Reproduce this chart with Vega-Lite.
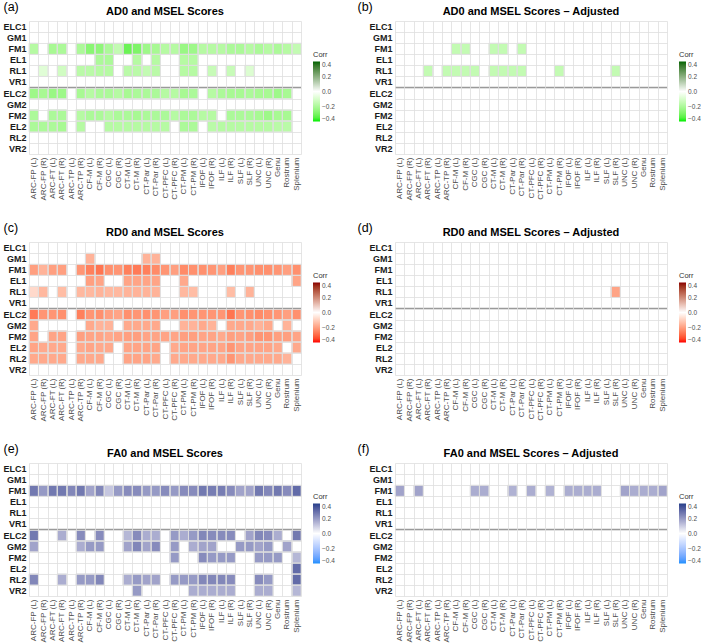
{
"$schema": "https://vega.github.io/schema/vega-lite/v6.json",
"padding": {"left": 2, "top": 0, "right": 0, "bottom": 0},
"datasets": {
"a": [
{"y":"FM1","x":"ARC-FP (L)","v":-0.18},{"y":"FM1","x":"ARC-FT (L)","v":-0.21},{"y":"FM1","x":"ARC-FT (R)","v":-0.20},{"y":"FM1","x":"ARC-TP (R)","v":-0.20},{"y":"FM1","x":"CF-M (L)","v":-0.27},{"y":"FM1","x":"CF-M (R)","v":-0.26},{"y":"FM1","x":"CGC (L)","v":-0.20},{"y":"FM1","x":"CGC (R)","v":-0.15},{"y":"FM1","x":"CT-M (L)","v":-0.32},{"y":"FM1","x":"CT-M (R)","v":-0.29},{"y":"FM1","x":"CT-Par (L)","v":-0.23},{"y":"FM1","x":"CT-Par (R)","v":-0.21},{"y":"FM1","x":"CT-PFC (L)","v":-0.18},{"y":"FM1","x":"CT-PFC (R)","v":-0.18},{"y":"FM1","x":"CT-PM (L)","v":-0.24},{"y":"FM1","x":"CT-PM (R)","v":-0.23},{"y":"FM1","x":"IFOF (L)","v":-0.18},{"y":"FM1","x":"IFOF (R)","v":-0.18},{"y":"FM1","x":"ILF (L)","v":-0.18},{"y":"FM1","x":"ILF (R)","v":-0.20},{"y":"FM1","x":"SLF (L)","v":-0.20},{"y":"FM1","x":"SLF (R)","v":-0.18},{"y":"FM1","x":"UNC (L)","v":-0.20},{"y":"FM1","x":"UNC (R)","v":-0.18},{"y":"FM1","x":"Genu","v":-0.20},{"y":"FM1","x":"Rostrum","v":-0.18},{"y":"FM1","x":"Splenium","v":-0.15},
{"y":"EL1","x":"CF-M (R)","v":-0.20},{"y":"EL1","x":"CGC (L)","v":-0.20},{"y":"EL1","x":"CT-M (R)","v":-0.18},{"y":"EL1","x":"CT-Par (R)","v":-0.18},{"y":"EL1","x":"CT-PM (L)","v":-0.18},{"y":"EL1","x":"CT-PM (R)","v":-0.18},
{"y":"RL1","x":"ARC-FP (R)","v":-0.08},{"y":"RL1","x":"ARC-FT (R)","v":-0.12},{"y":"RL1","x":"ARC-TP (R)","v":-0.17},{"y":"RL1","x":"CF-M (L)","v":-0.17},{"y":"RL1","x":"CF-M (R)","v":-0.18},{"y":"RL1","x":"CGC (L)","v":-0.18},{"y":"RL1","x":"CT-M (L)","v":-0.17},{"y":"RL1","x":"CT-M (R)","v":-0.17},{"y":"RL1","x":"CT-Par (L)","v":-0.15},{"y":"RL1","x":"CT-Par (R)","v":-0.17},{"y":"RL1","x":"CT-PM (L)","v":-0.18},{"y":"RL1","x":"CT-PM (R)","v":-0.18},{"y":"RL1","x":"IFOF (R)","v":-0.14},{"y":"RL1","x":"ILF (R)","v":-0.14},{"y":"RL1","x":"SLF (R)","v":-0.09},
{"y":"ELC2","x":"ARC-FP (L)","v":-0.23},{"y":"ELC2","x":"ARC-FP (R)","v":-0.21},{"y":"ELC2","x":"ARC-FT (L)","v":-0.24},{"y":"ELC2","x":"ARC-FT (R)","v":-0.23},{"y":"ELC2","x":"ARC-TP (R)","v":-0.21},{"y":"ELC2","x":"CF-M (L)","v":-0.18},{"y":"ELC2","x":"CF-M (R)","v":-0.20},{"y":"ELC2","x":"CGC (L)","v":-0.20},{"y":"ELC2","x":"CGC (R)","v":-0.18},{"y":"ELC2","x":"CT-M (L)","v":-0.21},{"y":"ELC2","x":"CT-M (R)","v":-0.20},{"y":"ELC2","x":"CT-Par (L)","v":-0.20},{"y":"ELC2","x":"CT-Par (R)","v":-0.20},{"y":"ELC2","x":"CT-PFC (L)","v":-0.18},{"y":"ELC2","x":"CT-PFC (R)","v":-0.18},{"y":"ELC2","x":"CT-PM (L)","v":-0.21},{"y":"ELC2","x":"CT-PM (R)","v":-0.20},{"y":"ELC2","x":"IFOF (R)","v":-0.18},{"y":"ELC2","x":"ILF (L)","v":-0.20},{"y":"ELC2","x":"ILF (R)","v":-0.21},{"y":"ELC2","x":"SLF (L)","v":-0.21},{"y":"ELC2","x":"SLF (R)","v":-0.20},{"y":"ELC2","x":"UNC (L)","v":-0.21},{"y":"ELC2","x":"UNC (R)","v":-0.21},{"y":"ELC2","x":"Genu","v":-0.23},{"y":"ELC2","x":"Rostrum","v":-0.21},
{"y":"FM2","x":"ARC-FP (L)","v":-0.20},{"y":"FM2","x":"ARC-FT (L)","v":-0.20},{"y":"FM2","x":"ARC-FT (R)","v":-0.20},{"y":"FM2","x":"ARC-TP (R)","v":-0.18},{"y":"FM2","x":"CF-M (L)","v":-0.20},{"y":"FM2","x":"CF-M (R)","v":-0.20},{"y":"FM2","x":"CGC (L)","v":-0.18},{"y":"FM2","x":"CGC (R)","v":-0.20},{"y":"FM2","x":"CT-M (L)","v":-0.20},{"y":"FM2","x":"CT-M (R)","v":-0.21},{"y":"FM2","x":"CT-Par (L)","v":-0.20},{"y":"FM2","x":"CT-Par (R)","v":-0.20},{"y":"FM2","x":"CT-PFC (L)","v":-0.20},{"y":"FM2","x":"CT-PFC (R)","v":-0.18},{"y":"FM2","x":"CT-PM (L)","v":-0.20},{"y":"FM2","x":"CT-PM (R)","v":-0.20},{"y":"FM2","x":"IFOF (L)","v":-0.18},{"y":"FM2","x":"IFOF (R)","v":-0.18},{"y":"FM2","x":"ILF (R)","v":-0.20},{"y":"FM2","x":"SLF (L)","v":-0.20},{"y":"FM2","x":"SLF (R)","v":-0.20},{"y":"FM2","x":"UNC (L)","v":-0.21},{"y":"FM2","x":"UNC (R)","v":-0.23},{"y":"FM2","x":"Genu","v":-0.21},{"y":"FM2","x":"Rostrum","v":-0.21},
{"y":"EL2","x":"ARC-FP (L)","v":-0.20},{"y":"EL2","x":"ARC-FP (R)","v":-0.20},{"y":"EL2","x":"ARC-FT (L)","v":-0.20},{"y":"EL2","x":"ARC-FT (R)","v":-0.21},{"y":"EL2","x":"ARC-TP (R)","v":-0.18},{"y":"EL2","x":"CGC (L)","v":-0.18},{"y":"EL2","x":"CGC (R)","v":-0.18},{"y":"EL2","x":"CT-M (L)","v":-0.18},{"y":"EL2","x":"CT-M (R)","v":-0.18},{"y":"EL2","x":"CT-Par (L)","v":-0.18},{"y":"EL2","x":"CT-Par (R)","v":-0.18},{"y":"EL2","x":"CT-PFC (L)","v":-0.18},{"y":"EL2","x":"CT-PM (L)","v":-0.20},{"y":"EL2","x":"CT-PM (R)","v":-0.20},{"y":"EL2","x":"IFOF (R)","v":-0.17},{"y":"EL2","x":"ILF (L)","v":-0.18},{"y":"EL2","x":"ILF (R)","v":-0.18},{"y":"EL2","x":"SLF (L)","v":-0.18},{"y":"EL2","x":"SLF (R)","v":-0.18},{"y":"EL2","x":"UNC (L)","v":-0.18},{"y":"EL2","x":"UNC (R)","v":-0.18},{"y":"EL2","x":"Genu","v":-0.17},{"y":"EL2","x":"Rostrum","v":-0.17}
],
"b": [
{"y":"FM1","x":"CF-M (L)","v":-0.15},{"y":"FM1","x":"CF-M (R)","v":-0.15},{"y":"FM1","x":"CT-M (L)","v":-0.15},{"y":"FM1","x":"CT-M (R)","v":-0.15},{"y":"FM1","x":"CT-Par (R)","v":-0.15},
{"y":"RL1","x":"ARC-FT (R)","v":-0.15},{"y":"RL1","x":"ARC-TP (R)","v":-0.15},{"y":"RL1","x":"CF-M (L)","v":-0.15},{"y":"RL1","x":"CF-M (R)","v":-0.15},{"y":"RL1","x":"CGC (L)","v":-0.15},{"y":"RL1","x":"CT-M (L)","v":-0.15},{"y":"RL1","x":"CT-M (R)","v":-0.15},{"y":"RL1","x":"CT-Par (L)","v":-0.15},{"y":"RL1","x":"CT-Par (R)","v":-0.15},{"y":"RL1","x":"CT-PM (R)","v":-0.15},{"y":"RL1","x":"SLF (R)","v":-0.15}
],
"c": [
{"y":"GM1","x":"CF-M (L)","v":-0.16},{"y":"GM1","x":"CT-Par (L)","v":-0.16},{"y":"GM1","x":"CT-Par (R)","v":-0.16},
{"y":"FM1","x":"ARC-FP (L)","v":-0.20},{"y":"FM1","x":"ARC-FP (R)","v":-0.16},{"y":"FM1","x":"ARC-FT (L)","v":-0.20},{"y":"FM1","x":"ARC-FT (R)","v":-0.20},{"y":"FM1","x":"ARC-TP (R)","v":-0.22},{"y":"FM1","x":"CF-M (L)","v":-0.26},{"y":"FM1","x":"CF-M (R)","v":-0.28},{"y":"FM1","x":"CGC (L)","v":-0.23},{"y":"FM1","x":"CGC (R)","v":-0.22},{"y":"FM1","x":"CT-M (L)","v":-0.26},{"y":"FM1","x":"CT-M (R)","v":-0.27},{"y":"FM1","x":"CT-Par (L)","v":-0.26},{"y":"FM1","x":"CT-Par (R)","v":-0.24},{"y":"FM1","x":"CT-PFC (L)","v":-0.22},{"y":"FM1","x":"CT-PFC (R)","v":-0.20},{"y":"FM1","x":"CT-PM (L)","v":-0.24},{"y":"FM1","x":"CT-PM (R)","v":-0.23},{"y":"FM1","x":"IFOF (L)","v":-0.23},{"y":"FM1","x":"IFOF (R)","v":-0.22},{"y":"FM1","x":"ILF (L)","v":-0.20},{"y":"FM1","x":"ILF (R)","v":-0.26},{"y":"FM1","x":"SLF (L)","v":-0.22},{"y":"FM1","x":"SLF (R)","v":-0.22},{"y":"FM1","x":"UNC (L)","v":-0.23},{"y":"FM1","x":"UNC (R)","v":-0.23},{"y":"FM1","x":"Genu","v":-0.22},{"y":"FM1","x":"Rostrum","v":-0.20},{"y":"FM1","x":"Splenium","v":-0.23},
{"y":"EL1","x":"CF-M (L)","v":-0.20},{"y":"EL1","x":"CF-M (R)","v":-0.19},{"y":"EL1","x":"CT-M (L)","v":-0.19},{"y":"EL1","x":"CT-M (R)","v":-0.19},{"y":"EL1","x":"CT-Par (L)","v":-0.19},{"y":"EL1","x":"CT-Par (R)","v":-0.19},{"y":"EL1","x":"CT-PM (L)","v":-0.18},{"y":"EL1","x":"Splenium","v":-0.19},
{"y":"RL1","x":"ARC-FP (L)","v":-0.08},{"y":"RL1","x":"ARC-FP (R)","v":-0.15},{"y":"RL1","x":"ARC-FT (R)","v":-0.14},{"y":"RL1","x":"ARC-TP (R)","v":-0.15},{"y":"RL1","x":"CF-M (L)","v":-0.15},{"y":"RL1","x":"CF-M (R)","v":-0.16},{"y":"RL1","x":"CGC (L)","v":-0.15},{"y":"RL1","x":"CGC (R)","v":-0.15},{"y":"RL1","x":"CT-M (L)","v":-0.16},{"y":"RL1","x":"CT-M (R)","v":-0.16},{"y":"RL1","x":"CT-Par (L)","v":-0.16},{"y":"RL1","x":"CT-Par (R)","v":-0.16},{"y":"RL1","x":"CT-PM (L)","v":-0.15},{"y":"RL1","x":"CT-PM (R)","v":-0.14},{"y":"RL1","x":"ILF (R)","v":-0.14},{"y":"RL1","x":"SLF (R)","v":-0.16},
{"y":"ELC2","x":"ARC-FP (L)","v":-0.27},{"y":"ELC2","x":"ARC-FP (R)","v":-0.22},{"y":"ELC2","x":"ARC-FT (L)","v":-0.22},{"y":"ELC2","x":"ARC-FT (R)","v":-0.23},{"y":"ELC2","x":"ARC-TP (R)","v":-0.26},{"y":"ELC2","x":"CF-M (L)","v":-0.22},{"y":"ELC2","x":"CF-M (R)","v":-0.23},{"y":"ELC2","x":"CGC (L)","v":-0.20},{"y":"ELC2","x":"CGC (R)","v":-0.19},{"y":"ELC2","x":"CT-M (L)","v":-0.23},{"y":"ELC2","x":"CT-M (R)","v":-0.22},{"y":"ELC2","x":"CT-Par (L)","v":-0.23},{"y":"ELC2","x":"CT-Par (R)","v":-0.22},{"y":"ELC2","x":"CT-PFC (L)","v":-0.20},{"y":"ELC2","x":"CT-PFC (R)","v":-0.20},{"y":"ELC2","x":"CT-PM (L)","v":-0.23},{"y":"ELC2","x":"CT-PM (R)","v":-0.22},{"y":"ELC2","x":"IFOF (L)","v":-0.22},{"y":"ELC2","x":"IFOF (R)","v":-0.22},{"y":"ELC2","x":"ILF (L)","v":-0.22},{"y":"ELC2","x":"ILF (R)","v":-0.28},{"y":"ELC2","x":"SLF (L)","v":-0.22},{"y":"ELC2","x":"SLF (R)","v":-0.23},{"y":"ELC2","x":"UNC (L)","v":-0.24},{"y":"ELC2","x":"UNC (R)","v":-0.23},{"y":"ELC2","x":"Genu","v":-0.22},{"y":"ELC2","x":"Rostrum","v":-0.20},{"y":"ELC2","x":"Splenium","v":-0.23},
{"y":"GM2","x":"ARC-FP (L)","v":-0.18},{"y":"GM2","x":"CF-M (L)","v":-0.18},{"y":"GM2","x":"CF-M (R)","v":-0.16},{"y":"GM2","x":"CGC (L)","v":-0.16},{"y":"GM2","x":"CT-M (L)","v":-0.18},{"y":"GM2","x":"CT-M (R)","v":-0.18},{"y":"GM2","x":"CT-Par (L)","v":-0.18},{"y":"GM2","x":"CT-Par (R)","v":-0.18},{"y":"GM2","x":"CT-PM (L)","v":-0.16},{"y":"GM2","x":"CT-PM (R)","v":-0.16},{"y":"GM2","x":"IFOF (L)","v":-0.18},{"y":"GM2","x":"IFOF (R)","v":-0.16},{"y":"GM2","x":"ILF (R)","v":-0.18},{"y":"GM2","x":"SLF (L)","v":-0.18},{"y":"GM2","x":"SLF (R)","v":-0.18},{"y":"GM2","x":"UNC (L)","v":-0.16},{"y":"GM2","x":"UNC (R)","v":-0.18},{"y":"GM2","x":"Rostrum","v":-0.16},
{"y":"FM2","x":"ARC-FP (L)","v":-0.19},{"y":"FM2","x":"ARC-FT (L)","v":-0.19},{"y":"FM2","x":"ARC-FT (R)","v":-0.19},{"y":"FM2","x":"ARC-TP (R)","v":-0.20},{"y":"FM2","x":"CF-M (L)","v":-0.19},{"y":"FM2","x":"CF-M (R)","v":-0.19},{"y":"FM2","x":"CGC (L)","v":-0.18},{"y":"FM2","x":"CGC (R)","v":-0.19},{"y":"FM2","x":"CT-M (L)","v":-0.20},{"y":"FM2","x":"CT-M (R)","v":-0.20},{"y":"FM2","x":"CT-Par (L)","v":-0.19},{"y":"FM2","x":"CT-Par (R)","v":-0.19},{"y":"FM2","x":"CT-PFC (L)","v":-0.19},{"y":"FM2","x":"CT-PFC (R)","v":-0.19},{"y":"FM2","x":"CT-PM (L)","v":-0.20},{"y":"FM2","x":"CT-PM (R)","v":-0.20},{"y":"FM2","x":"IFOF (L)","v":-0.19},{"y":"FM2","x":"IFOF (R)","v":-0.19},{"y":"FM2","x":"ILF (L)","v":-0.18},{"y":"FM2","x":"ILF (R)","v":-0.20},{"y":"FM2","x":"SLF (L)","v":-0.19},{"y":"FM2","x":"SLF (R)","v":-0.20},{"y":"FM2","x":"UNC (L)","v":-0.22},{"y":"FM2","x":"UNC (R)","v":-0.22},{"y":"FM2","x":"Genu","v":-0.20},{"y":"FM2","x":"Rostrum","v":-0.20},{"y":"FM2","x":"Splenium","v":-0.19},
{"y":"EL2","x":"ARC-FP (L)","v":-0.19},{"y":"EL2","x":"ARC-FP (R)","v":-0.18},{"y":"EL2","x":"ARC-FT (L)","v":-0.18},{"y":"EL2","x":"ARC-FT (R)","v":-0.18},{"y":"EL2","x":"ARC-TP (R)","v":-0.18},{"y":"EL2","x":"CF-M (L)","v":-0.19},{"y":"EL2","x":"CF-M (R)","v":-0.18},{"y":"EL2","x":"CGC (L)","v":-0.18},{"y":"EL2","x":"CT-M (L)","v":-0.19},{"y":"EL2","x":"CT-M (R)","v":-0.19},{"y":"EL2","x":"CT-Par (L)","v":-0.19},{"y":"EL2","x":"CT-Par (R)","v":-0.19},{"y":"EL2","x":"CT-PFC (R)","v":-0.18},{"y":"EL2","x":"CT-PM (L)","v":-0.19},{"y":"EL2","x":"CT-PM (R)","v":-0.19},{"y":"EL2","x":"IFOF (L)","v":-0.19},{"y":"EL2","x":"IFOF (R)","v":-0.19},{"y":"EL2","x":"ILF (L)","v":-0.19},{"y":"EL2","x":"ILF (R)","v":-0.22},{"y":"EL2","x":"SLF (L)","v":-0.19},{"y":"EL2","x":"SLF (R)","v":-0.19},{"y":"EL2","x":"UNC (L)","v":-0.19},{"y":"EL2","x":"UNC (R)","v":-0.19},{"y":"EL2","x":"Genu","v":-0.18},{"y":"EL2","x":"Splenium","v":-0.18},
{"y":"RL2","x":"ARC-FP (L)","v":-0.18},{"y":"RL2","x":"ARC-FP (R)","v":-0.18},{"y":"RL2","x":"ARC-FT (L)","v":-0.18},{"y":"RL2","x":"ARC-FT (R)","v":-0.18},{"y":"RL2","x":"ARC-TP (R)","v":-0.18},{"y":"RL2","x":"CF-M (L)","v":-0.18},{"y":"RL2","x":"CF-M (R)","v":-0.18},{"y":"RL2","x":"CT-M (L)","v":-0.19},{"y":"RL2","x":"CT-M (R)","v":-0.19},{"y":"RL2","x":"CT-Par (L)","v":-0.19},{"y":"RL2","x":"CT-Par (R)","v":-0.18},{"y":"RL2","x":"CT-PFC (R)","v":-0.18},{"y":"RL2","x":"CT-PM (L)","v":-0.18},{"y":"RL2","x":"CT-PM (R)","v":-0.18},{"y":"RL2","x":"IFOF (L)","v":-0.18},{"y":"RL2","x":"IFOF (R)","v":-0.18},{"y":"RL2","x":"ILF (L)","v":-0.18},{"y":"RL2","x":"ILF (R)","v":-0.22},{"y":"RL2","x":"SLF (L)","v":-0.18},{"y":"RL2","x":"SLF (R)","v":-0.18},{"y":"RL2","x":"UNC (L)","v":-0.18},{"y":"RL2","x":"UNC (R)","v":-0.18},{"y":"RL2","x":"Genu","v":-0.18},{"y":"RL2","x":"Rostrum","v":-0.16}
],
"d": [
{"y":"RL1","x":"SLF (R)","v":-0.19}
],
"e": [
{"y":"FM1","x":"ARC-FP (L)","v":0.27},{"y":"FM1","x":"ARC-FP (R)","v":0.20},{"y":"FM1","x":"ARC-FT (L)","v":0.27},{"y":"FM1","x":"ARC-FT (R)","v":0.27},{"y":"FM1","x":"ARC-TP (L)","v":0.24},{"y":"FM1","x":"ARC-TP (R)","v":0.27},{"y":"FM1","x":"CF-M (L)","v":0.18},{"y":"FM1","x":"CF-M (R)","v":0.24},{"y":"FM1","x":"CGC (L)","v":0.11},{"y":"FM1","x":"CGC (R)","v":0.20},{"y":"FM1","x":"CT-M (L)","v":0.23},{"y":"FM1","x":"CT-M (R)","v":0.23},{"y":"FM1","x":"CT-Par (L)","v":0.20},{"y":"FM1","x":"CT-Par (R)","v":0.20},{"y":"FM1","x":"CT-PFC (L)","v":0.23},{"y":"FM1","x":"CT-PFC (R)","v":0.20},{"y":"FM1","x":"CT-PM (L)","v":0.23},{"y":"FM1","x":"CT-PM (R)","v":0.23},{"y":"FM1","x":"IFOF (L)","v":0.27},{"y":"FM1","x":"IFOF (R)","v":0.26},{"y":"FM1","x":"ILF (L)","v":0.26},{"y":"FM1","x":"ILF (R)","v":0.23},{"y":"FM1","x":"SLF (L)","v":0.18},{"y":"FM1","x":"SLF (R)","v":0.18},{"y":"FM1","x":"UNC (L)","v":0.27},{"y":"FM1","x":"UNC (R)","v":0.24},{"y":"FM1","x":"Genu","v":0.27},{"y":"FM1","x":"Rostrum","v":0.23},{"y":"FM1","x":"Splenium","v":0.30},
{"y":"ELC2","x":"ARC-FP (L)","v":0.27},{"y":"ELC2","x":"ARC-FT (R)","v":0.16},{"y":"ELC2","x":"ARC-TP (R)","v":0.23},{"y":"ELC2","x":"CF-M (R)","v":0.23},{"y":"ELC2","x":"CT-M (L)","v":0.14},{"y":"ELC2","x":"CT-M (R)","v":0.23},{"y":"ELC2","x":"CT-Par (L)","v":0.16},{"y":"ELC2","x":"CT-Par (R)","v":0.16},{"y":"ELC2","x":"CT-PFC (R)","v":0.20},{"y":"ELC2","x":"CT-PM (L)","v":0.16},{"y":"ELC2","x":"CT-PM (R)","v":0.20},{"y":"ELC2","x":"IFOF (L)","v":0.24},{"y":"ELC2","x":"IFOF (R)","v":0.23},{"y":"ELC2","x":"ILF (L)","v":0.23},{"y":"ELC2","x":"ILF (R)","v":0.23},{"y":"ELC2","x":"SLF (R)","v":0.18},{"y":"ELC2","x":"UNC (L)","v":0.24},{"y":"ELC2","x":"UNC (R)","v":0.23},{"y":"ELC2","x":"Genu","v":0.16},{"y":"ELC2","x":"Splenium","v":0.27},
{"y":"GM2","x":"ARC-FP (L)","v":0.18},{"y":"GM2","x":"ARC-TP (R)","v":0.16},{"y":"GM2","x":"CF-M (L)","v":0.20},{"y":"GM2","x":"CF-M (R)","v":0.20},{"y":"GM2","x":"CT-M (L)","v":0.18},{"y":"GM2","x":"CT-M (R)","v":0.24},{"y":"GM2","x":"CT-Par (L)","v":0.18},{"y":"GM2","x":"CT-Par (R)","v":0.23},{"y":"GM2","x":"CT-PFC (R)","v":0.20},{"y":"GM2","x":"CT-PM (R)","v":0.16},{"y":"GM2","x":"IFOF (L)","v":0.18},{"y":"GM2","x":"IFOF (R)","v":0.18},{"y":"GM2","x":"SLF (L)","v":0.20},{"y":"GM2","x":"SLF (R)","v":0.20},{"y":"GM2","x":"UNC (L)","v":0.18},{"y":"GM2","x":"UNC (R)","v":0.20},{"y":"GM2","x":"Rostrum","v":0.18},
{"y":"FM2","x":"CT-PFC (R)","v":0.20},{"y":"FM2","x":"IFOF (L)","v":0.23},{"y":"FM2","x":"IFOF (R)","v":0.20},{"y":"FM2","x":"ILF (L)","v":0.20},{"y":"FM2","x":"ILF (R)","v":0.20},{"y":"FM2","x":"UNC (L)","v":0.20},{"y":"FM2","x":"UNC (R)","v":0.20},{"y":"FM2","x":"Genu","v":0.20},{"y":"FM2","x":"Splenium","v":0.14},
{"y":"EL2","x":"Splenium","v":0.30},
{"y":"RL2","x":"ARC-FP (L)","v":0.24},{"y":"RL2","x":"ARC-FT (R)","v":0.16},{"y":"RL2","x":"ARC-TP (R)","v":0.20},{"y":"RL2","x":"CF-M (L)","v":0.20},{"y":"RL2","x":"CF-M (R)","v":0.24},{"y":"RL2","x":"CT-M (L)","v":0.16},{"y":"RL2","x":"CT-M (R)","v":0.20},{"y":"RL2","x":"CT-Par (L)","v":0.18},{"y":"RL2","x":"CT-Par (R)","v":0.18},{"y":"RL2","x":"CT-PFC (R)","v":0.20},{"y":"RL2","x":"CT-PM (L)","v":0.20},{"y":"RL2","x":"CT-PM (R)","v":0.20},{"y":"RL2","x":"IFOF (L)","v":0.24},{"y":"RL2","x":"IFOF (R)","v":0.24},{"y":"RL2","x":"ILF (L)","v":0.24},{"y":"RL2","x":"ILF (R)","v":0.23},{"y":"RL2","x":"UNC (L)","v":0.23},{"y":"RL2","x":"UNC (R)","v":0.20},{"y":"RL2","x":"Splenium","v":0.30},
{"y":"VR2","x":"CT-M (R)","v":0.20},{"y":"VR2","x":"CT-PM (R)","v":0.16},{"y":"VR2","x":"IFOF (L)","v":0.16},{"y":"VR2","x":"IFOF (R)","v":0.16},{"y":"VR2","x":"ILF (L)","v":0.16},{"y":"VR2","x":"ILF (R)","v":0.16},{"y":"VR2","x":"UNC (L)","v":0.16},{"y":"VR2","x":"UNC (R)","v":0.16},{"y":"VR2","x":"Splenium","v":0.14}
],
"f": [
{"y":"FM1","x":"ARC-FP (L)","v":0.18},{"y":"FM1","x":"ARC-FT (L)","v":0.18},{"y":"FM1","x":"CGC (L)","v":0.16},{"y":"FM1","x":"CGC (R)","v":0.16},{"y":"FM1","x":"CT-Par (L)","v":0.15},{"y":"FM1","x":"CT-PFC (L)","v":0.16},{"y":"FM1","x":"CT-PM (L)","v":0.15},{"y":"FM1","x":"IFOF (L)","v":0.16},{"y":"FM1","x":"IFOF (R)","v":0.16},{"y":"FM1","x":"ILF (L)","v":0.16},{"y":"FM1","x":"ILF (R)","v":0.16},{"y":"FM1","x":"UNC (L)","v":0.18},{"y":"FM1","x":"UNC (R)","v":0.16},{"y":"FM1","x":"Genu","v":0.16},{"y":"FM1","x":"Rostrum","v":0.16},{"y":"FM1","x":"Splenium","v":0.18}
]
},
"columns": 2,
"spacing": {"row": 20, "column": 22},
"resolve": {"scale": {"color": "independent", "x": "independent", "y": "independent"}, "legend": {"color": "independent"}},
"concat": [
{"title": {"text": "AD0 and MSEL Scores"}, "width": 272, "height": 133,
 "layer": [
  {"data": {"name": "a"}, "mark": {"type": "rect", "stroke": "#dedede", "strokeWidth": 0.7},
   "encoding": {
    "x": {"field": "x", "type": "nominal", "scale": {"domain": ["ARC-FP (L)","ARC-FP (R)","ARC-FT (L)","ARC-FT (R)","ARC-TP (L)","ARC-TP (R)","CF-M (L)","CF-M (R)","CGC (L)","CGC (R)","CT-M (L)","CT-M (R)","CT-Par (L)","CT-Par (R)","CT-PFC (L)","CT-PFC (R)","CT-PM (L)","CT-PM (R)","IFOF (L)","IFOF (R)","ILF (L)","ILF (R)","SLF (L)","SLF (R)","UNC (L)","UNC (R)","Genu","Rostrum","Splenium"], "paddingInner": 0, "paddingOuter": 0}, "axis": {"title": null}},
    "y": {"field": "y", "type": "nominal", "scale": {"domain": ["ELC1","GM1","FM1","EL1","RL1","VR1","ELC2","GM2","FM2","EL2","RL2","VR2"], "paddingInner": 0, "paddingOuter": 0}, "axis": {"title": "(a)", "titleX": -26}},
    "color": {"field": "v", "type": "quantitative", "scale": {"domain": [-0.4, 0, 0.4], "range": ["#00ee00", "#ffffff", "#006400"], "interpolate": "lab"},
     "legend": {"title": "Corr", "orient": "none", "legendX": 284, "legendY": 30, "values": [-0.4, -0.2, 0, 0.2, 0.4], "format": ".1f"}}
   }},
  {"data": {"values": [{}]}, "mark": {"type": "rule", "color": "#9a9a9a", "strokeWidth": 1.5},
   "encoding": {"y": {"datum": "ELC2", "type": "nominal", "bandPosition": 0}}}
 ]},
{"title": {"text": "AD0 and MSEL Scores – Adjusted"}, "width": 272, "height": 133,
 "layer": [
  {"data": {"name": "b"}, "mark": {"type": "rect", "stroke": "#dedede", "strokeWidth": 0.7},
   "encoding": {
    "x": {"field": "x", "type": "nominal", "scale": {"domain": ["ARC-FP (L)","ARC-FP (R)","ARC-FT (L)","ARC-FT (R)","ARC-TP (L)","ARC-TP (R)","CF-M (L)","CF-M (R)","CGC (L)","CGC (R)","CT-M (L)","CT-M (R)","CT-Par (L)","CT-Par (R)","CT-PFC (L)","CT-PFC (R)","CT-PM (L)","CT-PM (R)","IFOF (L)","IFOF (R)","ILF (L)","ILF (R)","SLF (L)","SLF (R)","UNC (L)","UNC (R)","Genu","Rostrum","Splenium"], "paddingInner": 0, "paddingOuter": 0}, "axis": {"title": null}},
    "y": {"field": "y", "type": "nominal", "scale": {"domain": ["ELC1","GM1","FM1","EL1","RL1","VR1","ELC2","GM2","FM2","EL2","RL2","VR2"], "paddingInner": 0, "paddingOuter": 0}, "axis": {"title": "(b)", "titleX": -38}},
    "color": {"field": "v", "type": "quantitative", "scale": {"domain": [-0.4, 0, 0.4], "range": ["#00ee00", "#ffffff", "#006400"], "interpolate": "lab"},
     "legend": {"title": "Corr", "orient": "none", "legendX": 284, "legendY": 30, "values": [-0.4, -0.2, 0, 0.2, 0.4], "format": ".1f"}}
   }},
  {"data": {"values": [{}]}, "mark": {"type": "rule", "color": "#9a9a9a", "strokeWidth": 1.5},
   "encoding": {"y": {"datum": "ELC2", "type": "nominal", "bandPosition": 0}}}
 ]},
{"title": {"text": "RD0 and MSEL Scores"}, "width": 272, "height": 133,
 "layer": [
  {"data": {"name": "c"}, "mark": {"type": "rect", "stroke": "#dedede", "strokeWidth": 0.7},
   "encoding": {
    "x": {"field": "x", "type": "nominal", "scale": {"domain": ["ARC-FP (L)","ARC-FP (R)","ARC-FT (L)","ARC-FT (R)","ARC-TP (L)","ARC-TP (R)","CF-M (L)","CF-M (R)","CGC (L)","CGC (R)","CT-M (L)","CT-M (R)","CT-Par (L)","CT-Par (R)","CT-PFC (L)","CT-PFC (R)","CT-PM (L)","CT-PM (R)","IFOF (L)","IFOF (R)","ILF (L)","ILF (R)","SLF (L)","SLF (R)","UNC (L)","UNC (R)","Genu","Rostrum","Splenium"], "paddingInner": 0, "paddingOuter": 0}, "axis": {"title": null}},
    "y": {"field": "y", "type": "nominal", "scale": {"domain": ["ELC1","GM1","FM1","EL1","RL1","VR1","ELC2","GM2","FM2","EL2","RL2","VR2"], "paddingInner": 0, "paddingOuter": 0}, "axis": {"title": "(c)", "titleX": -26}},
    "color": {"field": "v", "type": "quantitative", "scale": {"domain": [-0.4, 0, 0.4], "range": ["#ff0000", "#ffffff", "#8b0000"], "interpolate": "lab"},
     "legend": {"title": "Corr", "orient": "none", "legendX": 284, "legendY": 30, "values": [-0.4, -0.2, 0, 0.2, 0.4], "format": ".1f"}}
   }},
  {"data": {"values": [{}]}, "mark": {"type": "rule", "color": "#9a9a9a", "strokeWidth": 1.5},
   "encoding": {"y": {"datum": "ELC2", "type": "nominal", "bandPosition": 0}}}
 ]},
{"title": {"text": "RD0 and MSEL Scores – Adjusted"}, "width": 272, "height": 133,
 "layer": [
  {"data": {"name": "d"}, "mark": {"type": "rect", "stroke": "#dedede", "strokeWidth": 0.7},
   "encoding": {
    "x": {"field": "x", "type": "nominal", "scale": {"domain": ["ARC-FP (L)","ARC-FP (R)","ARC-FT (L)","ARC-FT (R)","ARC-TP (L)","ARC-TP (R)","CF-M (L)","CF-M (R)","CGC (L)","CGC (R)","CT-M (L)","CT-M (R)","CT-Par (L)","CT-Par (R)","CT-PFC (L)","CT-PFC (R)","CT-PM (L)","CT-PM (R)","IFOF (L)","IFOF (R)","ILF (L)","ILF (R)","SLF (L)","SLF (R)","UNC (L)","UNC (R)","Genu","Rostrum","Splenium"], "paddingInner": 0, "paddingOuter": 0}, "axis": {"title": null}},
    "y": {"field": "y", "type": "nominal", "scale": {"domain": ["ELC1","GM1","FM1","EL1","RL1","VR1","ELC2","GM2","FM2","EL2","RL2","VR2"], "paddingInner": 0, "paddingOuter": 0}, "axis": {"title": "(d)", "titleX": -38}},
    "color": {"field": "v", "type": "quantitative", "scale": {"domain": [-0.4, 0, 0.4], "range": ["#ff0000", "#ffffff", "#8b0000"], "interpolate": "lab"},
     "legend": {"title": "Corr", "orient": "none", "legendX": 284, "legendY": 30, "values": [-0.4, -0.2, 0, 0.2, 0.4], "format": ".1f"}}
   }},
  {"data": {"values": [{}]}, "mark": {"type": "rule", "color": "#9a9a9a", "strokeWidth": 1.5},
   "encoding": {"y": {"datum": "ELC2", "type": "nominal", "bandPosition": 0}}}
 ]},
{"title": {"text": "FA0 and MSEL Scores"}, "width": 272, "height": 133,
 "layer": [
  {"data": {"name": "e"}, "mark": {"type": "rect", "stroke": "#dedede", "strokeWidth": 0.7},
   "encoding": {
    "x": {"field": "x", "type": "nominal", "scale": {"domain": ["ARC-FP (L)","ARC-FP (R)","ARC-FT (L)","ARC-FT (R)","ARC-TP (L)","ARC-TP (R)","CF-M (L)","CF-M (R)","CGC (L)","CGC (R)","CT-M (L)","CT-M (R)","CT-Par (L)","CT-Par (R)","CT-PFC (L)","CT-PFC (R)","CT-PM (L)","CT-PM (R)","IFOF (L)","IFOF (R)","ILF (L)","ILF (R)","SLF (L)","SLF (R)","UNC (L)","UNC (R)","Genu","Rostrum","Splenium"], "paddingInner": 0, "paddingOuter": 0}, "axis": {"title": null}},
    "y": {"field": "y", "type": "nominal", "scale": {"domain": ["ELC1","GM1","FM1","EL1","RL1","VR1","ELC2","GM2","FM2","EL2","RL2","VR2"], "paddingInner": 0, "paddingOuter": 0}, "axis": {"title": "(e)", "titleX": -26}},
    "color": {"field": "v", "type": "quantitative", "scale": {"domain": [-0.4, 0, 0.4], "range": ["#1e90ff", "#ffffff", "#27408b"], "interpolate": "lab"},
     "legend": {"title": "Corr", "orient": "none", "legendX": 284, "legendY": 30, "values": [-0.4, -0.2, 0, 0.2, 0.4], "format": ".1f"}}
   }},
  {"data": {"values": [{}]}, "mark": {"type": "rule", "color": "#9a9a9a", "strokeWidth": 1.5},
   "encoding": {"y": {"datum": "ELC2", "type": "nominal", "bandPosition": 0}}}
 ]},
{"title": {"text": "FA0 and MSEL Scores – Adjusted"}, "width": 272, "height": 133,
 "layer": [
  {"data": {"name": "f"}, "mark": {"type": "rect", "stroke": "#dedede", "strokeWidth": 0.7},
   "encoding": {
    "x": {"field": "x", "type": "nominal", "scale": {"domain": ["ARC-FP (L)","ARC-FP (R)","ARC-FT (L)","ARC-FT (R)","ARC-TP (L)","ARC-TP (R)","CF-M (L)","CF-M (R)","CGC (L)","CGC (R)","CT-M (L)","CT-M (R)","CT-Par (L)","CT-Par (R)","CT-PFC (L)","CT-PFC (R)","CT-PM (L)","CT-PM (R)","IFOF (L)","IFOF (R)","ILF (L)","ILF (R)","SLF (L)","SLF (R)","UNC (L)","UNC (R)","Genu","Rostrum","Splenium"], "paddingInner": 0, "paddingOuter": 0}, "axis": {"title": null}},
    "y": {"field": "y", "type": "nominal", "scale": {"domain": ["ELC1","GM1","FM1","EL1","RL1","VR1","ELC2","GM2","FM2","EL2","RL2","VR2"], "paddingInner": 0, "paddingOuter": 0}, "axis": {"title": "(f)", "titleX": -38}},
    "color": {"field": "v", "type": "quantitative", "scale": {"domain": [-0.4, 0, 0.4], "range": ["#1e90ff", "#ffffff", "#27408b"], "interpolate": "lab"},
     "legend": {"title": "Corr", "orient": "none", "legendX": 284, "legendY": 30, "values": [-0.4, -0.2, 0, 0.2, 0.4], "format": ".1f"}}
   }},
  {"data": {"values": [{}]}, "mark": {"type": "rule", "color": "#9a9a9a", "strokeWidth": 1.5},
   "encoding": {"y": {"datum": "ELC2", "type": "nominal", "bandPosition": 0}}}
 ]}
],
"config": {
 "font": "Liberation Sans",
 "view": {"stroke": null},
 "title": {"fontSize": 11, "fontWeight": "bold", "color": "#000000", "anchor": "middle", "frame": "group", "offset": -17},
 "axisX": {"labelAngle": -90, "labelFontSize": 8, "labelColor": "#4d4d4d", "ticks": false, "domain": false, "grid": true, "tickBand": "extent", "gridColor": "#dedede", "gridWidth": 0.8, "labelPadding": 3, "labelOverlap": false},
 "axisY": {"labelFontSize": 9, "labelFontWeight": "bold", "labelColor": "#1a1a1a", "ticks": false, "domain": false, "grid": true, "tickBand": "extent", "gridColor": "#dedede", "gridWidth": 0.8, "labelPadding": 3, "labelOverlap": false, "titleAngle": 0, "titleAlign": "left", "titleBaseline": "alphabetic", "titleFontSize": 12.5, "titleFontWeight": "normal", "titleColor": "#000000", "titleY": -11},
 "legend": {"gradientLength": 60, "gradientThickness": 7, "titleFontSize": 7.5, "titleFontWeight": "normal", "titleColor": "#333333", "labelFontSize": 6.5, "labelColor": "#4d4d4d", "labelOffset": 6, "gradientStrokeWidth": 0, "titlePadding": 3, "labelOverlap": false}
}
}
